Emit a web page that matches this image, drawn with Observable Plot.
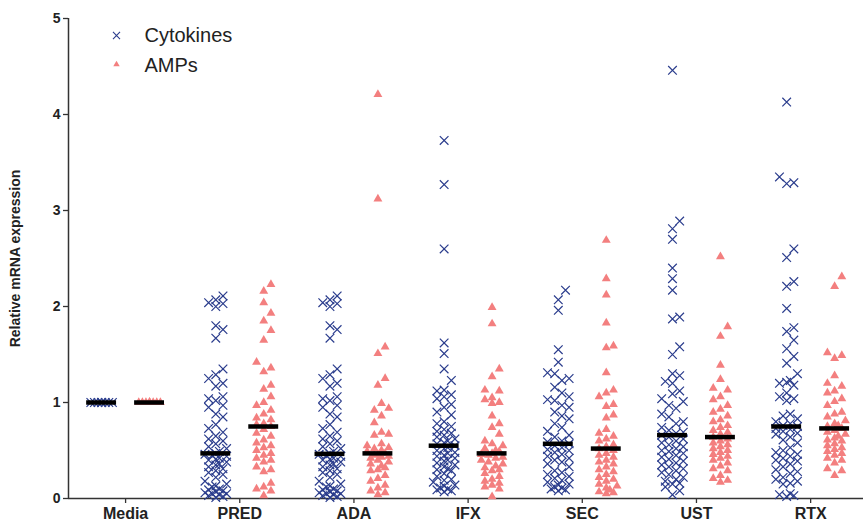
<!DOCTYPE html>
<html>
<head>
<meta charset="utf-8">
<script src="https://cdn.jsdelivr.net/npm/d3@7"></script>
<script src="https://cdn.jsdelivr.net/npm/@observablehq/plot@0.6"></script>
<style>
  body { margin: 0; background: #fff; }
  #chart { width: 863px; height: 522px; }
</style>
</head>
<body>
<div id="chart"></div>
<script>
// ---- Data ----
const categories = ["Media", "PRED", "ADA", "IFX", "SEC", "UST", "RTX"];
const seriesNames = ["Cytokines", "AMPs"];

const mediaCytokines = [1.0, 1.0, 1.0, 1.0, 1.0, 1.0, 1.0, 1.0, 1.0];
const mediaAMPs = [1.0, 1.0, 1.0, 1.0, 1.0, 1.0, 1.0, 1.0, 1.0];

const predCytokines = [2.11, 2.07, 2.04, 2.03, 2.0, 1.8, 1.76, 1.67, 1.35, 1.29, 1.25, 1.2, 1.17, 1.06, 1.04, 1.02, 0.97, 0.95, 0.88, 0.85, 0.77, 0.73, 0.69, 0.65, 0.62, 0.6, 0.57, 0.54, 0.52, 0.49,
  0.47,
  0.46, 0.45, 0.44, 0.42, 0.41, 0.4, 0.38, 0.36, 0.35, 0.33, 0.31, 0.29, 0.27, 0.25, 0.22, 0.18, 0.15, 0.13, 0.12, 0.1, 0.09, 0.08, 0.07, 0.06, 0.05, 0.05, 0.04, 0.03, 0.02, 0.01];
const predAMPs = [2.23, 2.16, 2.04, 1.93, 1.85, 1.75, 1.65, 1.42, 1.36, 1.32, 1.18, 1.14, 1.06, 1.0, 0.97, 0.92, 0.88, 0.84, 0.82, 0.78, 0.77,
  0.75,
  0.72, 0.68, 0.65, 0.61, 0.58, 0.55, 0.53, 0.5, 0.47, 0.45, 0.42, 0.4, 0.38, 0.33, 0.3, 0.28, 0.16, 0.12, 0.1, 0.08, 0.03];

const adaCytokines = [2.11, 2.07, 2.04, 2.03, 2.0, 1.8, 1.76, 1.67, 1.35, 1.29, 1.25, 1.2, 1.17, 1.06, 1.04, 1.02, 0.97, 0.95, 0.88, 0.85, 0.77, 0.73, 0.69, 0.65, 0.62, 0.6, 0.57, 0.54, 0.52, 0.49,
  0.465,
  0.46, 0.45, 0.44, 0.42, 0.41, 0.4, 0.38, 0.36, 0.35, 0.33, 0.31, 0.29, 0.27, 0.25, 0.22, 0.18, 0.15, 0.13, 0.12, 0.1, 0.09, 0.08, 0.07, 0.06, 0.05, 0.05, 0.04, 0.03, 0.02, 0.01];
const adaAMPs = [4.21, 3.12, 1.58, 1.51, 1.25, 1.18, 0.99, 0.94, 0.92, 0.86, 0.79, 0.69, 0.67, 0.66, 0.57, 0.55, 0.53, 0.52, 0.5, 0.49,
  0.47,
  0.46, 0.45, 0.44, 0.43, 0.42, 0.4, 0.38, 0.36, 0.34, 0.32, 0.3, 0.29, 0.24, 0.21, 0.18, 0.14, 0.11, 0.08, 0.06, 0.04];

const ifxCytokines = [3.73, 3.27, 2.6, 1.62, 1.51, 1.35, 1.23, 1.13, 1.12, 1.08, 1.06, 1.04, 0.98, 0.95, 0.9, 0.87, 0.8, 0.78, 0.75, 0.72, 0.7, 0.68, 0.66, 0.64, 0.62, 0.6, 0.58, 0.57,
  0.55,
  0.53, 0.52, 0.5, 0.48, 0.47, 0.45, 0.44, 0.42, 0.4, 0.39, 0.37, 0.35, 0.33, 0.31, 0.3, 0.29, 0.26, 0.23, 0.2, 0.19, 0.17, 0.14, 0.13, 0.11, 0.1, 0.09, 0.08, 0.07];
const ifxAMPs = [1.99, 1.82, 1.35, 1.27, 1.13, 1.12, 1.05, 1.03, 1.0, 0.99, 0.86, 0.78, 0.74, 0.67, 0.6, 0.57, 0.55, 0.52, 0.5, 0.49,
  0.47,
  0.46, 0.45, 0.43, 0.42, 0.4, 0.38, 0.36, 0.34, 0.32, 0.3, 0.29, 0.26, 0.23, 0.2, 0.18, 0.16, 0.14, 0.12, 0.1, 0.02];

const secCytokines = [2.17, 2.07, 1.96, 1.55, 1.42, 1.31, 1.3, 1.25, 1.23, 1.16, 1.1, 1.06, 1.03, 1.02, 0.97, 0.95, 0.9, 0.86, 0.83, 0.78, 0.74, 0.7, 0.66, 0.64, 0.6, 0.59,
  0.57,
  0.55, 0.53, 0.51, 0.5, 0.48, 0.46, 0.44, 0.42, 0.4, 0.38, 0.36, 0.33, 0.29, 0.27, 0.25, 0.23, 0.21, 0.19, 0.17, 0.15, 0.14, 0.12, 0.11, 0.1, 0.09, 0.08];
const secAMPs = [2.69, 2.29, 2.12, 1.83, 1.59, 1.57, 1.31, 1.13, 1.1, 1.06, 0.98, 0.96, 0.87, 0.84, 0.72, 0.68, 0.65, 0.62, 0.6, 0.56, 0.54,
  0.52,
  0.5, 0.47, 0.45, 0.43, 0.4, 0.38, 0.36, 0.33, 0.3, 0.28, 0.25, 0.22, 0.2, 0.18, 0.15, 0.13, 0.11, 0.09, 0.07, 0.06, 0.05];

const ustCytokines = [4.46, 2.89, 2.81, 2.7, 2.4, 2.29, 2.17, 1.89, 1.87, 1.58, 1.5, 1.3, 1.28, 1.22, 1.2, 1.12, 1.09, 1.04, 1.01, 0.97, 0.94, 0.88, 0.85, 0.8, 0.78, 0.74, 0.71, 0.69, 0.68,
  0.66,
  0.64, 0.62, 0.6, 0.58, 0.56, 0.54, 0.52, 0.5, 0.49, 0.47, 0.45, 0.43, 0.41, 0.39, 0.37, 0.35, 0.33, 0.31, 0.29, 0.27, 0.25, 0.22, 0.2, 0.18, 0.16, 0.15, 0.12, 0.08, 0.04];
const ustAMPs = [2.52, 1.79, 1.69, 1.39, 1.24, 1.15, 1.13, 1.06, 1.03, 0.97, 0.93, 0.9, 0.86, 0.82, 0.8, 0.76, 0.74, 0.71, 0.69, 0.67,
  0.64,
  0.62, 0.6, 0.58, 0.56, 0.54, 0.52, 0.5, 0.48, 0.46, 0.44, 0.42, 0.4, 0.37, 0.34, 0.31, 0.29, 0.24, 0.21, 0.19, 0.17];

const rtxCytokines = [4.13, 3.35, 3.29, 3.28, 2.6, 2.51, 2.26, 2.21, 1.98, 1.78, 1.74, 1.65, 1.56, 1.48, 1.41, 1.3, 1.23, 1.21, 1.2, 1.18, 1.1, 1.06, 1.04, 1.02, 0.88, 0.86, 0.83, 0.8, 0.78, 0.76,
  0.75,
  0.73, 0.72, 0.7, 0.68, 0.67, 0.64, 0.61, 0.58, 0.53, 0.5, 0.48, 0.46, 0.44, 0.42, 0.4, 0.39, 0.36, 0.33, 0.3, 0.28, 0.26, 0.22, 0.2, 0.18, 0.16, 0.15, 0.05, 0.04, 0.03, 0.02];
const rtxAMPs = [2.31, 2.21, 1.52, 1.49, 1.46, 1.28, 1.2, 1.17, 1.12, 1.1, 1.04, 1.01, 0.97, 0.9, 0.88, 0.85, 0.81, 0.78, 0.76, 0.75,
  0.73,
  0.71, 0.69, 0.67, 0.65, 0.63, 0.61, 0.6, 0.57, 0.55, 0.53, 0.51, 0.49, 0.47, 0.45, 0.42, 0.4, 0.37, 0.31, 0.29, 0.24];

const cytokineSeries = [mediaCytokines, predCytokines, adaCytokines, ifxCytokines, secCytokines, ustCytokines, rtxCytokines];
const ampSeries = [mediaAMPs, predAMPs, adaAMPs, ifxAMPs, secAMPs, ustAMPs, rtxAMPs];

// ---- Layout constants ----
const W = 863, H = 522;
const mL = 68, mR = 0, mT = 18, mB = 24;
const xDomain = [-0.5, 6.463];
const yDomain = [0, 5];
const pxPerX = (W - mL - mR) / (xDomain[1] - xDomain[0]);
const pxPerY = (H - mT - mB) / (yDomain[1] - yDomain[0]);
const groupOffset = 0.21;     // in category units
const medianHalf = 0.131;     // half-width of the median bar, category units

const blue = "#2b3d8d";
const salmon = "#f37f7f";

// deterministic swarm layout (avoid overlap, like GraphPad scatter)
function swarm(values, center, series) {
  const pts = values.map(v => ({ v })).sort((a, b) => a.v - b.v);
  const placed = [];
  const step = 3.6, minDx = 7, minDy = 10;
  const order = [0, 1, -1, 2, -2, 3, -3];
  for (const p of pts) {
    const py = p.v * pxPerY;
    let best = 0, bestScore = -Infinity;
    for (const k of order) {
      const px = k * step;
      let score = Infinity;
      for (const q of placed) {
        const dx = Math.abs(q.px - px) / minDx, dy = Math.abs(q.py - py) / minDy;
        const s = Math.max(dx, dy);
        if (s < score) score = s;
      }
      if (score >= 1) { best = px; bestScore = Infinity; break; }
      if (score > bestScore) { bestScore = score; best = px; }
    }
    placed.push({ px: best, py, v: p.v });
  }
  return placed.map(q => ({ x: center + q.px / pxPerX, y: q.v, series }));
}

const cytoRows = [], ampRows = [], medians = [];
categories.forEach((cat, i) => {
  const c = cytokineSeries[i], a = ampSeries[i];
  cytoRows.push(...swarm(c, i - groupOffset, "Cytokines"));
  ampRows.push(...swarm(a, i + groupOffset, "AMPs"));
  medians.push({ x1: i - groupOffset - medianHalf, x2: i - groupOffset + medianHalf, y: d3.median(c) });
  medians.push({ x1: i + groupOffset - medianHalf, x2: i + groupOffset + medianHalf, y: d3.median(a) });
});

const chart = Plot.plot({
  width: W, height: H,
  marginLeft: mL, marginRight: mR, marginTop: mT, marginBottom: mB,
  style: { fontFamily: "'Liberation Sans', Arial, sans-serif", background: "#fff", color: "#222" },
  x: { domain: xDomain, axis: null },
  y: { domain: yDomain, axis: null },
  marks: [
    Plot.axisY({
      ticks: [0, 1, 2, 3, 4, 5], tickFormat: d => String(d),
      tickSize: 5, tickPadding: 3, fontSize: 14, fontWeight: "bold",
      stroke: "#333", strokeWidth: 1.3,
      label: "Relative mRNA expression", labelAnchor: "center", labelArrow: "none", labelOffset: 58
    }),
    Plot.axisX({
      ticks: d3.range(categories.length), tickFormat: i => categories[i],
      tickSize: 5, tickPadding: 4, fontSize: 16, fontWeight: "bold",
      stroke: "#333", strokeWidth: 1.3, label: null
    }),
    Plot.ruleX([xDomain[0]], { stroke: "#333", strokeWidth: 1.5 }),
    Plot.ruleY([0], { stroke: "#333", strokeWidth: 1.5 }),
    Plot.dot(cytoRows, { x: "x", y: "y", symbol: "times", r: 4, stroke: blue, strokeWidth: 1.2 }),
    Plot.dot(ampRows, { x: "x", y: "y", symbol: "triangle", r: 3.3, fill: salmon, stroke: "none" }),
    Plot.ruleY(medians, { x1: "x1", x2: "x2", y: "y", stroke: "#000", strokeWidth: 4.5 }),
    // legend
    Plot.dot([seriesNames[0]], { frameAnchor: "top-left", dx: 48, dy: 17, symbol: "times", r: 3.3, stroke: blue, strokeWidth: 1.1 }),
    Plot.dot([seriesNames[1]], { frameAnchor: "top-left", dx: 48, dy: 46, symbol: "triangle", r: 2.4, fill: salmon, stroke: "none" }),
    Plot.text([seriesNames[0]], { frameAnchor: "top-left", lineAnchor: "middle", dx: 76, dy: 17, text: d => d, textAnchor: "start", fontSize: 20, fill: "#222" }),
    Plot.text([seriesNames[1]], { frameAnchor: "top-left", lineAnchor: "middle", dx: 76, dy: 47, text: d => d, textAnchor: "start", fontSize: 20, fill: "#222" })
  ]
});

document.getElementById("chart").appendChild(chart);
</script>
</body>
</html>
